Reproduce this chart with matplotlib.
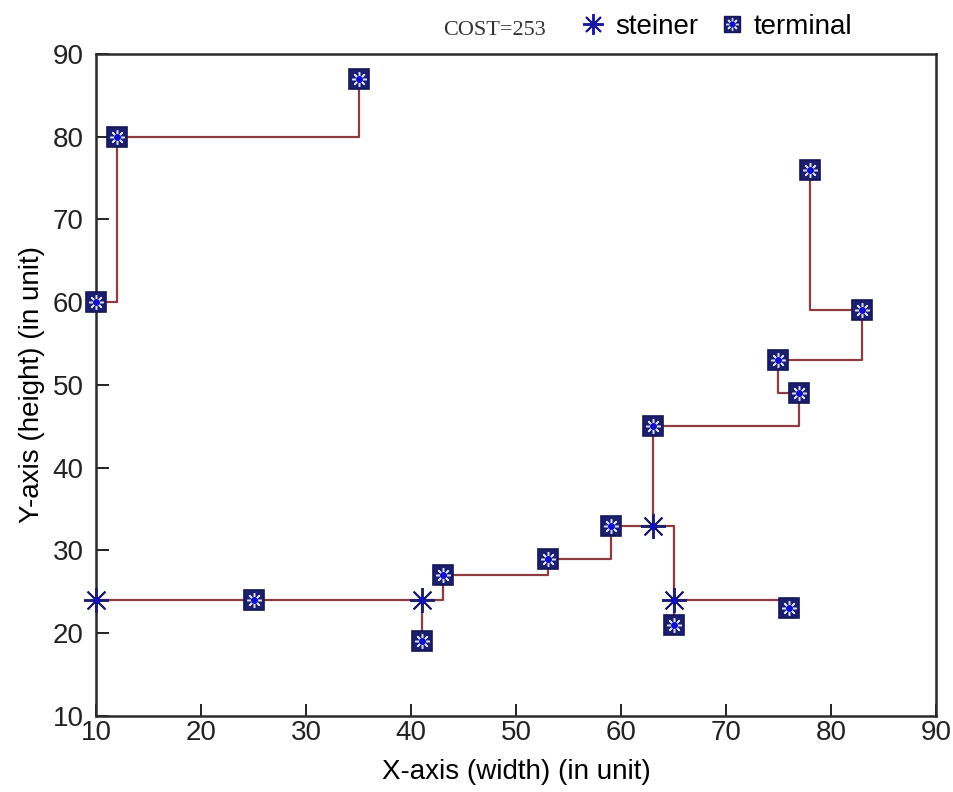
import matplotlib
matplotlib.use('Agg')
import matplotlib.pyplot as plt
from matplotlib.lines import Line2D

plt.rcParams['font.family'] = ['Liberation Sans', 'DejaVu Sans']

# terminal points
term_x = [35, 12, 10, 78, 83, 75, 77, 63, 59, 53, 43, 25, 41, 65, 76]
term_y = [87, 80, 60, 76, 59, 53, 49, 45, 33, 29, 27, 24, 19, 21, 23]

# steiner points
stein_x = [10, 41, 63, 65]
stein_y = [24, 24, 33, 24]

# rectilinear edges (polylines)
edges = [
    ([10, 12, 12], [60, 60, 80]),
    ([12, 35, 35], [80, 80, 87]),
    ([78, 78, 83], [76, 59, 59]),
    ([83, 83, 75], [59, 53, 53]),
    ([75, 75, 77], [53, 49, 49]),
    ([77, 77, 63], [49, 45, 45]),
    ([63, 63], [45, 33]),
    ([63, 59], [33, 33]),
    ([63, 65, 65], [33, 33, 24]),
    ([65, 65], [24, 21]),
    ([65, 76, 76], [24, 24, 23]),
    ([59, 59, 53], [33, 29, 29]),
    ([53, 53, 43], [29, 27, 27]),
    ([43, 43, 41], [27, 24, 24]),
    ([41, 41], [24, 19]),
    ([41, 10], [24, 24]),
]
cost = 253

line_c = '#8e3c40'
navy = '#1c1f6e'
star = (8, 2, 0)

fig = plt.figure(figsize=(9.54, 7.92), dpi=100)
ax = fig.add_axes([0.101, 0.096, 0.880, 0.836])

for ex, ey in edges:
    ax.plot(ex, ey, color=line_c, lw=1.6, zorder=2)

# steiner markers
ax.plot(stein_x, stein_y, ls='none', marker=star, ms=18, mew=1.4,
        color=navy, zorder=4, clip_on=False)
ax.plot(stein_x, stein_y, ls='none', marker='o', ms=4, color='#1010c0',
        zorder=5, clip_on=False)

# terminal markers: square with light asterisk inside
ax.plot(term_x, term_y, ls='none', marker='s', ms=14.5, mfc=navy, mec='#14175a',
        mew=1.2, zorder=4, clip_on=False)
ax.plot(term_x, term_y, ls='none', marker=star, ms=10.5, mew=1.1,
        color='#d8dcf5', zorder=5, clip_on=False)
ax.plot(term_x, term_y, ls='none', marker='o', ms=4, color='#1010d0',
        zorder=6, clip_on=False)

ax.set_xlim(10, 90)
ax.set_ylim(10, 90)
ax.set_xticks(range(10, 91, 10))
ax.set_yticks(range(10, 91, 10))
ax.tick_params(direction='in', length=9, width=1.4, labelsize=20,
               colors='#222222', top=False, right=False)
ax.tick_params(axis='x', pad=3)
ax.tick_params(axis='y', pad=9)
for s in ax.spines.values():
    s.set_linewidth(1.8)
    s.set_color('#2a2a2a')

ax.set_xlabel('X-axis (width) (in unit)', fontsize=20, labelpad=9)
ax.set_ylabel('Y-axis (height) (in unit)', fontsize=20, labelpad=6)

# legend above the plot
fig.text(0.464, 0.962, 'COST=%d' % cost, family='Liberation Serif', fontsize=16,
         va='center', color='#333333')
h1 = Line2D([], [], ls='none', marker=star, ms=15, mew=1.4, color='#1a1aa0')
h2a = Line2D([], [], ls='none', marker='s', ms=12, mfc=navy, mec='#14175a')
h2b = Line2D([], [], ls='none', marker=star, ms=9, mew=1.0, color='#d8dcf5')
h2c = Line2D([], [], ls='none', marker='o', ms=3.5, color='#1010d0')
fig.legend([h1, (h2a, h2b, h2c)], ['steiner', 'terminal'], loc='center left',
           bbox_to_anchor=(0.610, 0.966), ncol=2, frameon=False, fontsize=20,
           handlelength=0.8, handletextpad=0.4, columnspacing=0.8,
           borderpad=0, borderaxespad=0)

fig.savefig('out.png', dpi=100)
